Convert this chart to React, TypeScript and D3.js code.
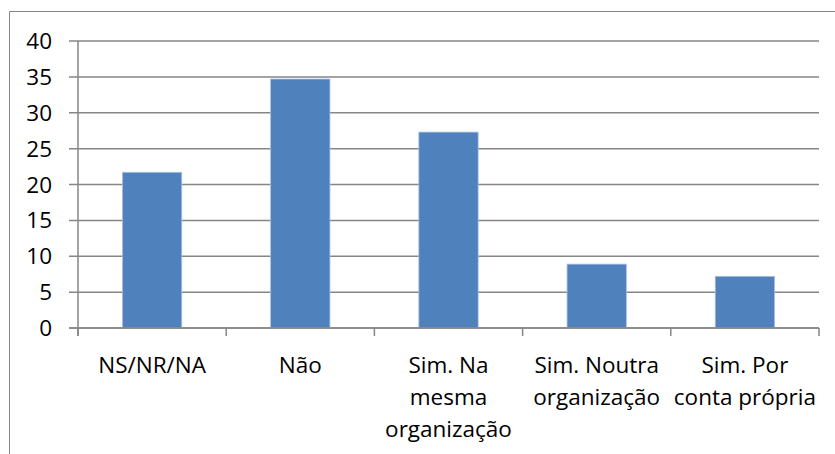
import { useRef, useEffect } from 'react';
import * as d3 from 'd3';

const categories = [
  ['NS/NR/NA'],
  ['Não'],
  ['Sim. Na', 'mesma', 'organização'],
  ['Sim. Noutra', 'organização'],
  ['Sim. Por', 'conta própria'],
];
const values = [21.7, 34.7, 27.3, 8.9, 7.2];
const yTicks = [0, 5, 10, 15, 20, 25, 30, 35, 40];

const width = 835;
const height = 454;
const margin = { top: 41, right: 16, bottom: 126, left: 78 };
const font = '"Open Sans", sans-serif';
const fontSize = 22.5;

export default function App() {
  const svgRef = useRef<SVGSVGElement | null>(null);

  useEffect(() => {
    if (!svgRef.current) return;
    const svg = d3.select(svgRef.current);
    svg.selectAll('*').remove();

    const x = d3.scaleBand<number>()
      .domain(d3.range(values.length))
      .range([margin.left, width - margin.right])
      .paddingInner(0.6)
      .paddingOuter(0.3);

    const y = d3.scaleLinear()
      .domain([0, 40])
      .range([height - margin.bottom, margin.top]);

    // outer frame (left + top only visible)
    svg.append('path')
      .attr('d', `M9.5,${height} V11.5 H${width}`)
      .attr('fill', 'none')
      .attr('stroke', '#868686')
      .attr('stroke-width', 1);

    // gridlines + y labels
    const yAxis = svg.append('g');
    yAxis.selectAll('line')
      .data(yTicks)
      .join('line')
      .attr('x1', margin.left - 9)
      .attr('x2', width - margin.right)
      .attr('y1', d => y(d))
      .attr('y2', d => y(d))
      .attr('stroke', '#868686')
      .attr('stroke-width', 1.5);

    yAxis.selectAll('text')
      .data(yTicks)
      .join('text')
      .attr('x', 52)
      .attr('y', d => y(d))
      .attr('dy', '0.36em')
      .attr('text-anchor', 'end')
      .attr('font-family', font)
      .attr('font-size', fontSize)
      .attr('fill', '#000')
      .text(d => d);

    // bars
    svg.append('g')
      .selectAll('rect')
      .data(values)
      .join('rect')
      .attr('x', (_, i) => x(i)!)
      .attr('width', x.bandwidth())
      .attr('y', d => y(d))
      .attr('height', d => y(0) - y(d))
      .attr('fill', '#4F81BD')
      .attr('stroke', '#A7BFDE')
      .attr('stroke-width', 0.8);

    // y axis line
    svg.append('line')
      .attr('x1', margin.left)
      .attr('x2', margin.left)
      .attr('y1', margin.top)
      .attr('y2', y(0) + 8)
      .attr('stroke', '#868686')
      .attr('stroke-width', 1.5);

    // x axis line + category ticks
    const step = (width - margin.right - margin.left) / values.length;
    const bounds = d3.range(values.length + 1).map(i => margin.left + i * step);
    svg.append('line')
      .attr('x1', margin.left - 9)
      .attr('x2', width - margin.right)
      .attr('y1', y(0))
      .attr('y2', y(0))
      .attr('stroke', '#868686')
      .attr('stroke-width', 1.5);
    svg.append('g')
      .selectAll('line')
      .data(bounds)
      .join('line')
      .attr('x1', d => d)
      .attr('x2', d => d)
      .attr('y1', y(0))
      .attr('y2', y(0) + 8)
      .attr('stroke', '#868686')
      .attr('stroke-width', 1.5);

    // category labels
    const labels = svg.append('g')
      .selectAll('text')
      .data(categories)
      .join('text')
      .attr('x', (_, i) => x(i)! + x.bandwidth() / 2)
      .attr('y', 365)
      .attr('text-anchor', 'middle')
      .attr('font-family', font)
      .attr('font-size', fontSize)
      .attr('fill', '#000');
    labels.selectAll('tspan')
      .data(d => d)
      .join('tspan')
      .attr('x', function () {
        return (this.parentNode as SVGTextElement).getAttribute('x');
      })
      .attr('dy', (_, j) => (j === 0 ? '0.36em' : '32'))
      .text(d => d);
  }, []);

  return (
    <svg
      ref={svgRef}
      width={width}
      height={height}
      style={{ position: 'absolute', left: 0, top: 0, background: '#fff' }}
    />
  );
}
